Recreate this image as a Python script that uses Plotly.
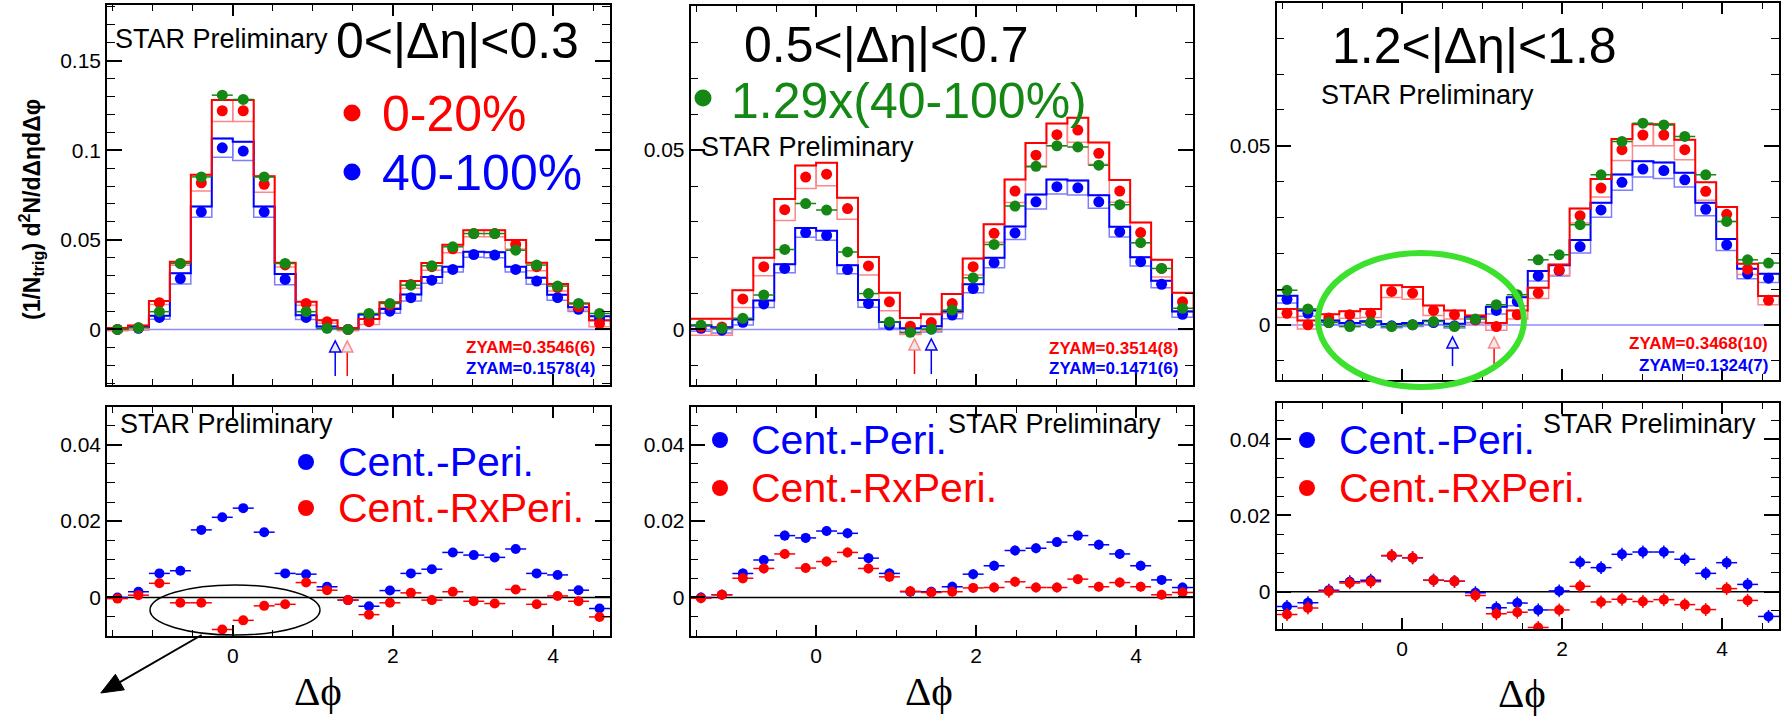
import numpy as np
import plotly.graph_objects as go

W, H = 1784, 718

# Δφ binning: 24 bins over [-π/2, 3π/2]
N_BINS = 24
BIN_W = np.pi / 12
PHI_LO, PHI_HI = -np.pi / 2, 3 * np.pi / 2
dphi = PHI_LO + (np.arange(N_BINS) + 0.5) * BIN_W

# ---------------- top row: ZYAM-subtracted correlations ----------------
# 0 < |Δη| < 0.3
tl_central = [0.0, 0.001, 0.0149, 0.0368, 0.0818, 0.1220, 0.1220, 0.0810, 0.0360, 0.0145, 0.0043, 0.0,
              0.0043, 0.0136, 0.0250, 0.0350, 0.0450, 0.0535, 0.0535, 0.0474, 0.0350, 0.0234, 0.0126, 0.0033]
tl_peripheral = [0.0, 0.0006, 0.0067, 0.0284, 0.0656, 0.1013, 0.0995, 0.0656, 0.0279, 0.0067, 0.0009, 0.0,
                 0.0071, 0.0102, 0.0177, 0.0275, 0.0335, 0.0418, 0.0415, 0.0335, 0.0270, 0.0178, 0.0112, 0.0061]
tl_scaled = [0.0, 0.0009, 0.0099, 0.0368, 0.0851, 0.1307, 0.1283, 0.0851, 0.0368, 0.0099, 0.0006, 0.0,
             0.0089, 0.0145, 0.0247, 0.0355, 0.0461, 0.0535, 0.0535, 0.0442, 0.0359, 0.0242, 0.0145, 0.0089]
tl_central_sys = [0.0008, 0.0012, 0.0010, 0.0010, 0.0045, 0.0060, 0.0060, 0.0045, 0.0012, 0.0010, 0.0008, 0.0008,
                  0.0015, 0.0015, 0.0020, 0.0020, 0.0022, 0.0018, 0.0018, 0.0025, 0.0022, 0.0020, 0.0018, 0.0018]
tl_peripheral_sys = [0.0005, 0.0008, 0.0010, 0.0030, 0.0030, 0.0052, 0.0052, 0.0030, 0.0030, 0.0012, 0.0008, 0.0005,
                     0.0012, 0.0012, 0.0018, 0.0018, 0.0015, 0.0015, 0.0015, 0.0015, 0.0018, 0.0015, 0.0012, 0.0012]

# 0.5 < |Δη| < 0.7
tm_central = [0.0007, 0.0007, 0.0085, 0.0175, 0.0334, 0.0425, 0.0433, 0.0337, 0.0177, 0.0077, 0.0009, 0.0019,
              0.0072, 0.0175, 0.0268, 0.0386, 0.0486, 0.0543, 0.0556, 0.0491, 0.0386, 0.0270, 0.0170, 0.0077]
tm_peripheral = [0.0003, -0.0002, 0.0020, 0.0071, 0.0170, 0.0270, 0.0262, 0.0167, 0.0072, 0.0012, -0.0005, 0.0001,
                 0.0040, 0.0114, 0.0186, 0.0269, 0.0356, 0.0398, 0.0395, 0.0356, 0.0272, 0.0189, 0.0126, 0.0042]
tm_scaled = [0.0012, 0.0003, 0.0031, 0.0096, 0.0223, 0.0351, 0.0333, 0.0216, 0.0100, 0.0021, -0.0008, 0.0001,
             0.0054, 0.0144, 0.0237, 0.0344, 0.0455, 0.0512, 0.0509, 0.0458, 0.0348, 0.0242, 0.0170, 0.0059]
tm_central_sys = [0.0023, 0.0023, 0.0024, 0.0025, 0.0030, 0.0032, 0.0032, 0.0030, 0.0025, 0.0025, 0.0023, 0.0023,
                  0.0027, 0.0023, 0.0025, 0.0032, 0.0034, 0.0031, 0.0034, 0.0030, 0.0031, 0.0028, 0.0024, 0.0025]
tm_peripheral_sys = [0.0008, 0.0008, 0.0008, 0.0010, 0.0012, 0.0013, 0.0013, 0.0012, 0.0010, 0.0009, 0.0008, 0.0008,
                     0.0010, 0.0012, 0.0014, 0.0018, 0.0020, 0.0020, 0.0020, 0.0018, 0.0014, 0.0012, 0.0010, 0.0008]

# 1.2 < |Δη| < 1.8
tr_central = [0.0033, 0.0001, 0.0020, 0.0029, 0.0033, 0.0094, 0.0089, 0.0041, 0.0029, 0.0015, -0.0004, 0.0029,
              0.0089, 0.0154, 0.0305, 0.0382, 0.0489, 0.0530, 0.0530, 0.0489, 0.0373, 0.0309, 0.0156, 0.0069]
tr_peripheral = [0.0072, 0.0033, 0.0007, 0.0001, 0.0006, -0.0002, 0.0001, 0.0007, -0.0002, 0.0015, 0.0041, 0.0066,
                 0.0137, 0.0152, 0.0219, 0.0321, 0.0398, 0.0435, 0.0431, 0.0405, 0.0323, 0.0224, 0.0143, 0.0131]
tr_scaled = [0.0097, 0.0045, 0.0007, -0.0004, 0.0007, -0.0004, 0.0001, 0.0010, -0.0004, 0.0017, 0.0057, 0.0085,
             0.0182, 0.0196, 0.0280, 0.0419, 0.0512, 0.0563, 0.0558, 0.0526, 0.0419, 0.0289, 0.0182, 0.0173]
tr_central_sys = [0.0012, 0.0012, 0.0010, 0.0010, 0.0012, 0.0017, 0.0017, 0.0014, 0.0012, 0.0012, 0.0010, 0.0012,
                  0.0015, 0.0015, 0.0020, 0.0025, 0.0030, 0.0030, 0.0030, 0.0028, 0.0025, 0.0020, 0.0015, 0.0012]
tr_peripheral_sys = [0.0010, 0.0008, 0.0006, 0.0005, 0.0005, 0.0005, 0.0005, 0.0005, 0.0006, 0.0008, 0.0010, 0.0012,
                     0.0014, 0.0015, 0.0018, 0.0020, 0.0022, 0.0022, 0.0022, 0.0020, 0.0018, 0.0016, 0.0014, 0.0012]

# ---------------- bottom row: central minus peripheral ----------------
bl_diff = [0.0, 0.0015, 0.0063, 0.0070, 0.0177, 0.0210, 0.0234, 0.0171, 0.0063, 0.0061, 0.0028, -0.0007,
           -0.0023, 0.0018, 0.0063, 0.0074, 0.0118, 0.0111, 0.0105, 0.0127, 0.0063, 0.0059, 0.0019, -0.0029]
bl_diff_r = [-0.0003, 0.0006, 0.0037, -0.0014, -0.0014, -0.0084, -0.0060, -0.0022, -0.0018, 0.0039, 0.0019, -0.0007,
             -0.0045, -0.0014, 0.0012, -0.0007, 0.0015, -0.0010, -0.0016, 0.0021, -0.0018, 0.0004, -0.0010, -0.0051]

bm_diff = [0.0, 0.0007, 0.0063, 0.0098, 0.0162, 0.0156, 0.0174, 0.0168, 0.0103, 0.0063, 0.0015, 0.0015,
           0.0028, 0.0061, 0.0083, 0.0123, 0.0129, 0.0145, 0.0162, 0.0138, 0.0114, 0.0083, 0.0046, 0.0026]
bm_diff_r = [-0.0002, 0.0007, 0.0050, 0.0076, 0.0114, 0.0077, 0.0094, 0.0118, 0.0076, 0.0054, 0.0016, 0.0013,
             0.0015, 0.0025, 0.0026, 0.0041, 0.0026, 0.0026, 0.0048, 0.0028, 0.0039, 0.0028, 0.0007, 0.0013]

br_diff = [-0.0039, -0.0029, 0.0004, 0.0026, 0.0030, 0.0094, 0.0089, 0.0030, 0.0027, -0.0003, -0.0042, -0.0030,
           -0.0048, 0.0002, 0.0077, 0.0063, 0.0098, 0.0104, 0.0104, 0.0085, 0.0048, 0.0076, 0.0019, -0.0065]
br_diff_r = [-0.0060, -0.0043, 0.0001, 0.0023, 0.0026, 0.0095, 0.0089, 0.0030, 0.0027, -0.0010, -0.0058, -0.0054,
             -0.0094, -0.0048, 0.0014, -0.0027, -0.0020, -0.0026, -0.0021, -0.0034, -0.0047, 0.0008, -0.0023, np.nan]

# statistical errors (per panel)
stat_top = {"tl": 0.0016, "tm": 0.0013, "tr": 0.0012}
stat_bottom = {"bl": 0.0010, "bm": 0.0013, "br": 0.0017}

# ZYAM points (Δφ) and values
zyam_pos = {"tl": (1.43, 1.28), "tm": (1.23, 1.44), "tr": (1.15, 0.63)}
zyam_text = {"tl": ("ZYAM=0.3546(6)", "ZYAM=0.1578(4)"),
             "tm": ("ZYAM=0.3514(8)", "ZYAM=0.1471(6)"),
             "tr": ("ZYAM=0.3468(10)", "ZYAM=0.1324(7)")}
eta_labels = {"tl": "0<|Δη|<0.3", "tm": "0.5<|Δη|<0.7", "tr": "1.2<|Δη|<1.8"}

RED = "rgb(255,0,0)"
BLUE = "rgb(0,0,255)"
GREEN = "rgb(20,135,20)"
LIGHT_RED = "rgb(255,135,135)"
LIGHT_BLUE = "rgb(125,125,255)"
SANS = "Liberation Sans, Arial, sans-serif"
SERIF = "Liberation Serif, DejaVu Serif, serif"


def px(x):
    return x / W


def py(y):
    return 1 - y / H


# panel frames in pixels: (left, right, top, bottom)
panels = {
    "tl": dict(ax="", frame=(107, 610, 5, 385), yr=(-0.031, 0.181), ymaj=0.05, ymin=0.01, bottom=False),
    "tm": dict(ax="2", frame=(690.5, 1193, 6, 385), yr=(-0.0155, 0.0902), ymaj=0.05, ymin=0.01, bottom=False),
    "tr": dict(ax="3", frame=(1276.5, 1779, 3, 380), yr=(-0.0153, 0.0898), ymaj=0.05, ymin=0.01, bottom=False),
    "bl": dict(ax="4", frame=(107, 610, 407, 636), yr=(-0.0101, 0.0499), ymaj=0.02, ymin=0.005, bottom=True),
    "bm": dict(ax="5", frame=(690.5, 1193, 407, 636), yr=(-0.0101, 0.0499), ymaj=0.02, ymin=0.005, bottom=True),
    "br": dict(ax="6", frame=(1276.5, 1779, 403, 629), yr=(-0.0098, 0.0495), ymaj=0.02, ymin=0.005, bottom=True),
}

fig = go.Figure()
layout_axes = {}
shapes = []
annotations = []

for key, p in panels.items():
    s = p["ax"]
    xa, ya = "x" + s, "y" + s
    l, r, t, b = p["frame"]
    layout_axes["xaxis" + s] = dict(
        domain=[px(l), px(r)], anchor=ya, range=[PHI_LO, PHI_HI],
        showline=True, linecolor="black", linewidth=1.5, mirror="ticks",
        ticks="inside", ticklen=11, tickwidth=1.5, tickcolor="black",
        tick0=0, dtick=2, showgrid=False, zeroline=False,
        showticklabels=p["bottom"], tickfont=dict(family=SANS, size=21, color="black"),
        minor=dict(ticks="inside", dtick=0.5, tick0=0, ticklen=6, tickwidth=1.2, tickcolor="black", showgrid=False),
    )
    layout_axes["yaxis" + s] = dict(
        domain=[py(b), py(t)], anchor=xa, range=list(p["yr"]),
        showline=True, linecolor="black", linewidth=1.5, mirror="ticks",
        ticks="inside", ticklen=15, tickwidth=1.5, tickcolor="black",
        tick0=0, dtick=p["ymaj"], showgrid=False, zeroline=False,
        tickfont=dict(family=SANS, size=21, color="black"),
        minor=dict(ticks="inside", dtick=p["ymin"], tick0=0, ticklen=8, tickwidth=1.2, tickcolor="black", showgrid=False),
    )

top_data = {
    "tl": (tl_central, tl_peripheral, tl_scaled, tl_central_sys, tl_peripheral_sys),
    "tm": (tm_central, tm_peripheral, tm_scaled, tm_central_sys, tm_peripheral_sys),
    "tr": (tr_central, tr_peripheral, tr_scaled, tr_central_sys, tr_peripheral_sys),
}


def step_x():
    return np.concatenate([[PHI_LO], dphi, [PHI_HI]])


def step_y(v):
    return np.concatenate([[v[0]], v, [v[-1]]])


for key, (cen, per, sca, cen_sys, per_sys) in top_data.items():
    s = panels[key]["ax"]
    xa, ya = "x" + s, "y" + s
    cen, per, sca = np.array(cen), np.array(per), np.array(sca)
    cen_sys, per_sys = np.array(cen_sys), np.array(per_sys)

    # baseline at zero
    shapes.append(dict(type="line", xref=xa + " domain", yref=ya, x0=0, x1=1, y0=0, y1=0,
                       line=dict(color="rgb(140,140,255)", width=1.5), layer="below"))

    # systematic boxes
    for vals, sys_, light, dark in ((per, per_sys, LIGHT_BLUE, BLUE), (cen, cen_sys, LIGHT_RED, RED)):
        fig.add_trace(go.Bar(x=dphi, y=2 * sys_, base=vals - sys_, width=BIN_W, xaxis=xa, yaxis=ya,
                             marker=dict(color="rgba(0,0,0,0)", line=dict(color=light, width=1.5)),
                             hoverinfo="skip"))
        fig.add_trace(go.Scatter(x=step_x(), y=step_y(vals + sys_), mode="lines", line_shape="hvh",
                                 line=dict(color=dark, width=2), xaxis=xa, yaxis=ya, hoverinfo="skip"))

    err = stat_top[key]
    fig.add_trace(go.Scatter(x=dphi, y=per, mode="markers", xaxis=xa, yaxis=ya,
                             marker=dict(color=BLUE, size=11),
                             error_y=dict(type="constant", value=err, color=BLUE, thickness=1.5, width=0)))
    fig.add_trace(go.Scatter(x=dphi, y=cen, mode="markers", xaxis=xa, yaxis=ya,
                             marker=dict(color=RED, size=11),
                             error_y=dict(type="constant", value=err, color=RED, thickness=1.5, width=0)))
    fig.add_trace(go.Scatter(x=dphi, y=sca, mode="markers", xaxis=xa, yaxis=ya,
                             marker=dict(color=GREEN, size=11),
                             error_x=dict(type="constant", value=BIN_W / 2, color=GREEN, thickness=1.5, width=0),
                             error_y=dict(type="constant", value=err, color=GREEN, thickness=1.5, width=0)))

bottom_data = {"bl": (bl_diff, bl_diff_r), "bm": (bm_diff, bm_diff_r), "br": (br_diff, br_diff_r)}
for key, (d, dr) in bottom_data.items():
    s = panels[key]["ax"]
    xa, ya = "x" + s, "y" + s
    shapes.append(dict(type="line", xref=xa + " domain", yref=ya, x0=0, x1=1, y0=0, y1=0,
                       line=dict(color="black", width=1.5), layer="below"))
    err = stat_bottom[key]
    for vals, col in ((d, BLUE), (dr, RED)):
        fig.add_trace(go.Scatter(x=dphi, y=vals, mode="markers", xaxis=xa, yaxis=ya,
                                 marker=dict(color=col, size=10),
                                 error_x=dict(type="constant", value=BIN_W / 2, color=col, thickness=1.5, width=0),
                                 error_y=dict(type="constant", value=err, color=col, thickness=1.5, width=0)))


def text(x, y, s, size, color="black", anchor="left", family=SANS, angle=0, yanchor="middle"):
    annotations.append(dict(x=px(x), y=py(y), xref="paper", yref="paper", text=s, showarrow=False,
                            xanchor=anchor, yanchor=yanchor, textangle=angle,
                            font=dict(family=family, size=size, color=color)))


def dot(cx, cy, r, color):
    shapes.append(dict(type="circle", xref="paper", yref="paper", x0=px(cx - r), x1=px(cx + r),
                       y0=py(cy + r), y1=py(cy - r), fillcolor=color, line=dict(width=0)))


def ellipse(cx, cy, rx, ry, color, width):
    shapes.append(dict(type="circle", xref="paper", yref="paper", x0=px(cx - rx), x1=px(cx + rx),
                       y0=py(cy + ry), y1=py(cy - ry), line=dict(color=color, width=width)))


def pointer(x_tail, y_tail, x_head, y_head, head_len=22, head_half=9, width=2):
    """Straight arrow with a filled triangular head, in pixel space."""
    dx, dy = x_head - x_tail, y_head - y_tail
    n = np.hypot(dx, dy)
    ux, uy = dx / n, dy / n
    bx, by = x_head - head_len * ux, y_head - head_len * uy
    qx, qy = -uy, ux
    shapes.append(dict(type="line", xref="paper", yref="paper", x0=px(x_tail), y0=py(y_tail),
                       x1=px(bx), y1=py(by), line=dict(color="black", width=width)))
    c1 = (bx + head_half * qx, by + head_half * qy)
    c2 = (bx - head_half * qx, by - head_half * qy)
    shapes.append(dict(type="path", xref="paper", yref="paper",
                       path=f"M {px(x_head)},{py(y_head)} L {px(c1[0])},{py(c1[1])} L {px(c2[0])},{py(c2[1])} Z",
                       fillcolor="black", line=dict(color="black", width=1)))


# ZYAM arrows: open triangle heads on a vertical stem
zyam_arrow_y = {"tl": (376, 352, 341), "tm": (374, 350, 339), "tr": (366, 348, 337)}
for key, (xr, xb) in zyam_pos.items():
    s = panels[key]["ax"]
    xa = "x" + s
    y_bot, y_base, y_tip = zyam_arrow_y[key]
    hw = 0.07
    for xv, col, head in ((xr, RED, LIGHT_RED), (xb, BLUE, BLUE)):
        shapes.append(dict(type="line", xref=xa, yref="paper", x0=xv, x1=xv, y0=py(y_bot), y1=py(y_base),
                           line=dict(color=col, width=1.5)))
        shapes.append(dict(type="path", xref=xa, yref="paper",
                           path=f"M {xv - hw},{py(y_base)} L {xv},{py(y_tip)} L {xv + hw},{py(y_base)} Z",
                           fillcolor="rgba(235,235,235,1)", line=dict(color=head, width=1.5)))

# top-row labels
text(113, 39, "STAR Preliminary", 27)
text(334, 41, eta_labels["tl"], 50)
dot(352, 113, 8.5, RED)
text(380, 114, "0-20%", 50, RED)
dot(352, 172, 8.5, BLUE)
text(380, 173, "40-100%", 50, BLUE)
text(597, 347, "<b>" + zyam_text["tl"][0] + "</b>", 17, RED, "right")
text(597, 368, "<b>" + zyam_text["tl"][1] + "</b>", 17, BLUE, "right")

text(742, 45, eta_labels["tm"], 50)
dot(703, 98, 8.5, GREEN)
text(729, 101, "1.29x(40-100%)", 50, GREEN)
text(699, 147, "STAR Preliminary", 27)
text(1180, 348, "<b>" + zyam_text["tm"][0] + "</b>", 17, RED, "right")
text(1180, 368, "<b>" + zyam_text["tm"][1] + "</b>", 17, BLUE, "right")

text(1330, 46, eta_labels["tr"], 50)
text(1319, 95, "STAR Preliminary", 27)
text(1770, 343, "<b>" + zyam_text["tr"][0] + "</b>", 17, RED, "right")
text(1770, 365, "<b>" + zyam_text["tr"][1] + "</b>", 17, BLUE, "right")

# y-axis title
text(31, 210, "<b>(1/N<sub>trig</sub>) d<sup>2</sup>N/dΔηdΔφ</b>", 23, "black", "center", angle=-90)

# bottom-row labels
text(118, 424, "STAR Preliminary", 27)
dot(306, 462, 8, BLUE)
text(336, 462, "Cent.-Peri.", 41, BLUE)
dot(306, 508, 8, RED)
text(336, 508, "Cent.-RxPeri.", 41, RED)

text(946, 424, "STAR Preliminary", 27)
dot(720, 440, 8, BLUE)
text(749, 440, "Cent.-Peri.", 41, BLUE)
dot(720, 488, 8, RED)
text(749, 488, "Cent.-RxPeri.", 41, RED)

text(1541, 424, "STAR Preliminary", 27)
dot(1307, 440, 8, BLUE)
text(1337, 440, "Cent.-Peri.", 41, BLUE)
dot(1307, 488, 8, RED)
text(1337, 488, "Cent.-RxPeri.", 41, RED)

for cx, cy in ((318, 716), (929, 716), (1522, 718)):
    text(cx, cy, "Δϕ", 41, "black", "center", family=SERIF, yanchor="bottom")

# highlight rings
ellipse(1421, 320, 103, 67, "rgb(60,225,45)", 6)
ellipse(235, 610, 85, 25, "black", 1.5)
pointer(201.6, 635, 100.8, 693)

fig.update_layout(
    width=W, height=H, margin=dict(l=0, r=0, t=0, b=0),
    paper_bgcolor="white", plot_bgcolor="white",
    showlegend=False, barmode="overlay",
    shapes=shapes, annotations=annotations,
    **layout_axes,
)

fig.write_html("out.html")
